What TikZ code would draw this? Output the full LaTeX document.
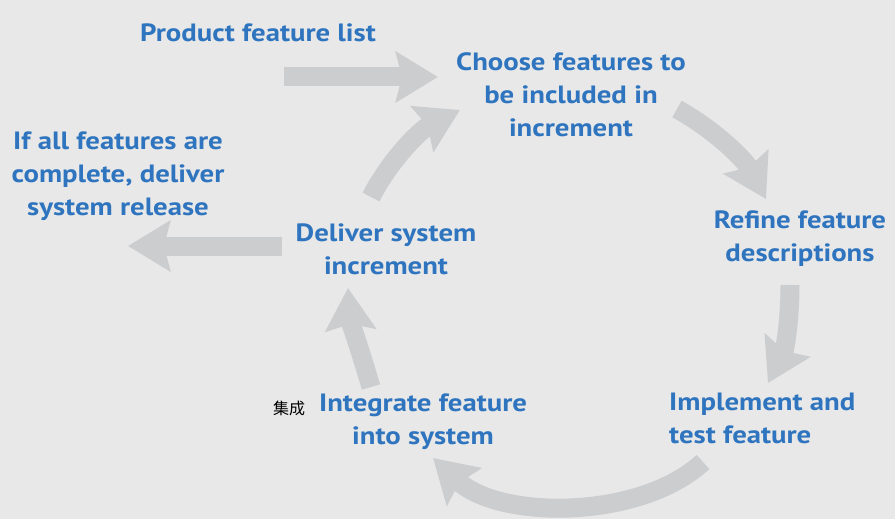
\documentclass[tikz,border=0pt]{standalone}
\usepackage{fontspec}
\setmainfont{PT Sans}[FakeStretch=1.15]
\newfontfamily\cjkfont{Noto Sans CJK SC}
\usetikzlibrary{arrows.meta}
\definecolor{bg}{RGB}{232,232,232}
\definecolor{arr}{RGB}{204,205,207}
\definecolor{txt}{RGB}{46,116,190}
\tikzset{
  lbl/.style={text=txt, font=\fontsize{25}{33}\selectfont\bfseries, align=center, inner sep=0pt},
  flow/.style={draw=arr, line width=19pt, -{Stealth[length=42pt, width=50pt, inset=6pt]}},
}
\begin{document}
\begin{tikzpicture}[x=1pt,y=-1pt]
\fill[bg] (0,0) rectangle (895,519);
\useasboundingbox (0,0) rectangle (895,519);

\node[lbl] (plist) at (258,33) {Product feature list};
\node[lbl] (choose) at (571,95) {Choose features to\\be included in\\increment};
\node[lbl] (refine) at (800,239) {Refine feature\\descriptions};
\node[lbl, align=left, anchor=west] (impl) at (669,418) {Implement and\\test feature};
\node[lbl] (integ) at (423,422) {Integrate feature\\into system};
\node[lbl] (deliv) at (386,249) {Deliver system\\increment};
\node[lbl] (ifall) at (118,176) {If all features are\\complete, deliver\\system release};
\node[font=\cjkfont\fontsize{16}{18}\selectfont, inner sep=0pt] (jc) at (289,408) {集成};

\coordinate (a1s) at (284,77);  \coordinate (a1e) at (438,77);
\coordinate (a2s) at (282,246); \coordinate (a2e) at (128,246);
\coordinate (a3s) at (677,109); \coordinate (a3e) at (766,199);
\coordinate (a4s) at (790,285); \coordinate (a4e) at (768,383);
\coordinate (a5s) at (703,462); \coordinate (a5e) at (433,458);
\coordinate (a6s) at (371,387); \coordinate (a6e) at (348,288);
\coordinate (a7s) at (371,197); \coordinate (a7e) at (460,110);

\draw[flow] (a1s) -- (a1e);
\draw[flow] (a2s) -- (a2e);
\draw[flow] (a3s) .. controls (715,130) and (745,160) .. (a3e);
\draw[flow] (a4s) .. controls (790,320) and (785,350) .. (a4e);
\draw[flow] (a5s) .. controls (640,520) and (500,520) .. (a5e);
\draw[flow] (a6s) .. controls (360,350) and (350,320) .. (a6e);
\draw[flow] (a7s) .. controls (390,160) and (420,130) .. (a7e);
\end{tikzpicture}
\end{document}
